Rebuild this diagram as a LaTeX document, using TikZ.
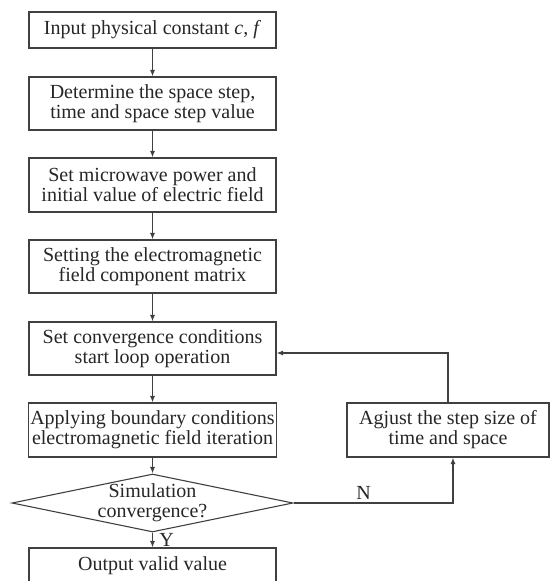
\documentclass[tikz,border=0pt]{standalone}
\usepackage{fontspec}
\setmainfont{Liberation Serif}
\usetikzlibrary{arrows.meta,shapes.geometric}

\tikzset{
  box/.style={draw=black!75, line width=1.1pt, minimum width=247pt, align=center, inner sep=2pt},
  arr/.style={-{Latex[length=6.5pt,width=5pt]}, draw=black!75, line width=1.1pt},
}

\begin{document}
\begin{tikzpicture}[x=1pt, y=1pt, font=\fontsize{20}{20}\selectfont, text=black!85]
\clip (0,0) rectangle (550,-581);

% Main column
\node[box, minimum height=36pt] (input) at (152.5,-30) {Input physical constant \textit{c}, \textit{f}};
\node[box, minimum height=53pt] (step) at (152.5,-103.5) {Determine the space step,\\time and space step value};
\node[box, minimum height=54pt] (power) at (152.5,-185) {Set microwave power and\\initial value of electric field};
\node[box, minimum height=53pt] (matrix) at (152.5,-266.5) {Setting the electromagnetic\\field component matrix};
\node[box, minimum height=53pt] (loop) at (152.5,-348.5) {Set convergence conditions\\start loop operation};
\node[box, minimum height=54pt] (iter) at (152.5,-430) {Applying boundary conditions\\electromagnetic field iteration};
\node[diamond, draw=black!75, line width=1.1pt, inner sep=0pt, aspect=4.85,
      minimum width=281pt, minimum height=58pt,
      label={[align=center]center:Simulation\\convergence?}] (conv) at (152.5,-503) {};
\node[box, minimum height=36pt] (out) at (152.5,-566) {Output valid value};

% Loop back
\node[box, minimum width=202pt, minimum height=54pt] (adj) at (448,-430) {Agjust the step size of\\time and space};

% Arrows
\draw[arr] (input) -- (step);
\draw[arr] (step) -- (power);
\draw[arr] (power) -- (matrix);
\draw[arr] (matrix) -- (loop);
\draw[arr] (loop) -- (iter);
\draw[arr] (iter) -- (conv.north);
\draw[arr] (conv.south) -- node[right, xshift=3pt] {Y} (out);
\draw[arr] (conv.east) -| node[pos=0.22, above] {N} ([xshift=5pt]adj.south);
\draw[arr] (adj.north) |- ([yshift=-4.5pt]loop.east);

\end{tikzpicture}
\end{document}
